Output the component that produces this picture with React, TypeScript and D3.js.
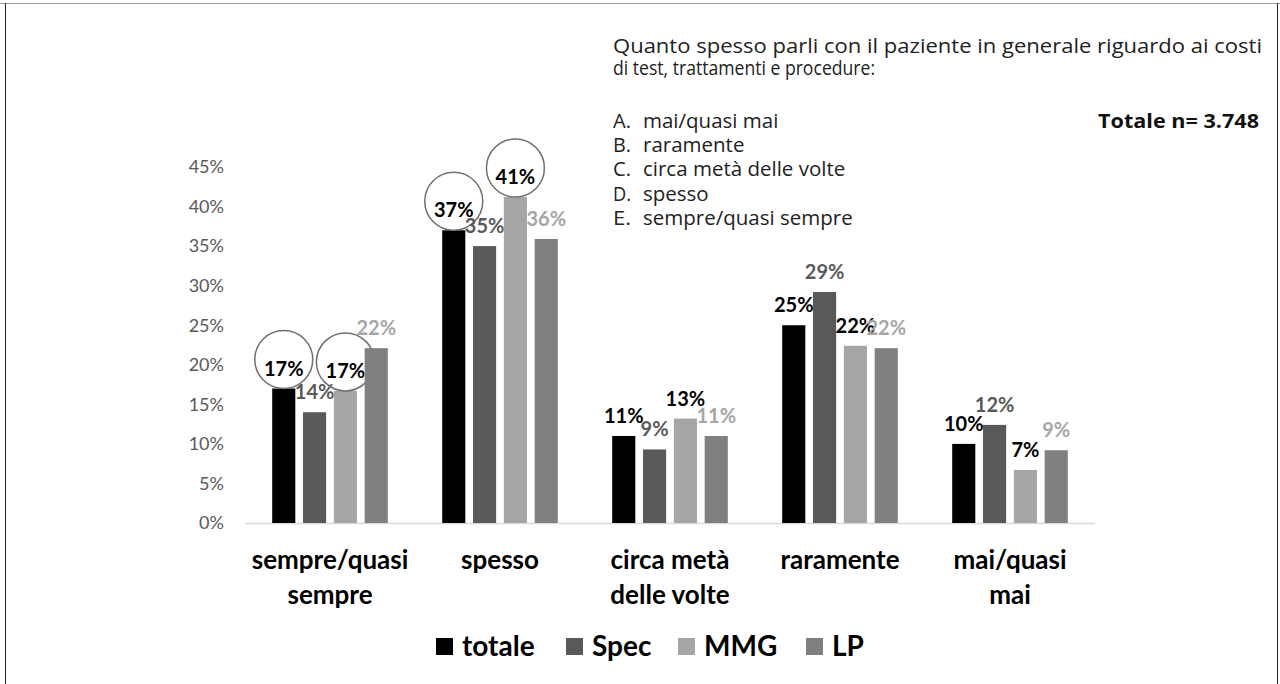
import React from 'react';
import * as d3 from 'd3';

const categories = ['sempre/quasi sempre', 'spesso', 'circa metà delle volte', 'raramente', 'mai/quasi mai'];
const categoryLines = [['sempre/quasi', 'sempre'], ['spesso'], ['circa metà', 'delle volte'], ['raramente'], ['mai/quasi', 'mai']];
const seriesNames = ['totale', 'Spec', 'MMG', 'LP'];
const totale = [17, 37, 11, 25, 10];
const spec = [14, 35, 9.3, 29.2, 12.4];
const mmg = [16.7, 41.2, 13.2, 22.4, 6.7];
const lp = [22.1, 35.9, 11, 22.1, 9.2];
const yTicks = [0, 5, 10, 15, 20, 25, 30, 35, 40, 45];
// cells that are circled in the original
const circled = [
  { cat: 'sempre/quasi sempre', series: 'totale' },
  { cat: 'sempre/quasi sempre', series: 'MMG' },
  { cat: 'spesso', series: 'totale' },
  { cat: 'spesso', series: 'MMG' },
];
const noteLines = ['Quanto spesso parli con il paziente in generale riguardo ai costi', 'di test, trattamenti e procedure:'];
const optionKeys = ['A.', 'B.', 'C.', 'D.', 'E.'];
const optionTexts = ['mai/quasi mai', 'raramente', 'circa metà delle volte', 'spesso', 'sempre/quasi sempre'];

const values: Record<string, number[]> = { totale, Spec: spec, MMG: mmg, LP: lp };
const barColor: Record<string, string> = { totale: '#000000', Spec: '#595959', MMG: '#a6a6a6', LP: '#808080' };
const labelColor: Record<string, string> = { totale: '#000000', Spec: '#595959', MMG: '#000000', LP: '#a6a6a6' };

const font = 'Lato, "Open Sans", sans-serif';
const noteFont = '"Open Sans", "Noto Sans", sans-serif';

export default function App() {
  const x0 = d3.scaleBand<string>().domain(categories).range([245, 1095]).paddingInner(0.32).paddingOuter(0.16);
  const x1 = d3.scaleBand<string>().domain(seriesNames).range([0, x0.bandwidth()]).paddingInner(0.25);
  const y = d3.scaleLinear().domain([0, 45]).range([523, 167]);

  const isCircled = (c: string, s: string) => circled.some((d) => d.cat === c && d.series === s);

  return (
    <div style={{ position: 'fixed', left: 0, top: 0 }}>
      <svg width={1280} height={684} style={{ display: 'block', background: '#fff' }}>
        <line x1={0} x2={1280} y1={3.5} y2={3.5} stroke="#a0a0a0" />
        <line x1={5.5} x2={5.5} y1={3} y2={684} stroke="#222" />
        <line x1={1277.5} x2={1277.5} y1={3} y2={684} stroke="#222" />

        {/* question text */}
        <text x={613} y={53} fontFamily={noteFont} fontSize={19.5} fill="#222" textLength={649} lengthAdjust="spacingAndGlyphs">
          {noteLines[0]}
        </text>
        <text x={613} y={75} fontFamily={noteFont} fontSize={19.5} fill="#222" textLength={262} lengthAdjust="spacingAndGlyphs">
          {noteLines[1]}
        </text>
        {optionKeys.map((k, i) => (
          <g key={k} fontFamily={noteFont} fontSize={20.5} fill="#222">
            <text x={613} y={128 + i * 24.2} textLength={18} lengthAdjust="spacingAndGlyphs">{k}</text>
            <text x={643} y={128 + i * 24.2}>{optionTexts[i]}</text>
          </g>
        ))}
        <text x={1259} y={128} textAnchor="end" fontFamily={noteFont} fontSize={20} fontWeight="bold" fill="#111" textLength={161} lengthAdjust="spacingAndGlyphs">
          Totale n= 3.748
        </text>

        {/* y axis labels */}
        {yTicks.map((t) => (
          <text key={t} x={224} y={y(t)} dy="0.35em" textAnchor="end" fontFamily={font} fontSize={18} fill="#595959">
            {t}%
          </text>
        ))}
        <line x1={245} x2={1095} y1={523.5} y2={523.5} stroke="#d9d9d9" strokeWidth={1.5} />

        {categories.map((c, ci) => (
          <g key={c} transform={`translate(${x0(c)},0)`}>
            {seriesNames.map((s) => {
              const v = values[s][ci];
              const bx = x1(s)!;
              const cx = bx + x1.bandwidth() / 2;
              return (
                <g key={s}>
                  <rect x={bx} y={y(v)} width={x1.bandwidth()} height={y(0) - y(v)} fill={barColor[s]} />
                  <text x={cx} y={y(v) - 13} textAnchor="middle" fontFamily={font} fontSize={20} fontWeight="bold" fill={labelColor[s]}>
                    {Math.round(v)}%
                  </text>
                  {isCircled(c, s) && <circle cx={cx} cy={y(v) - 29} r={29} fill="none" stroke="#6f6f6f" strokeWidth={1.5} />}
                </g>
              );
            })}
            {categoryLines[ci].map((l, li) => (
              <text key={l} x={x0.bandwidth() / 2} y={569 + li * 35} textAnchor="middle" fontFamily={font} fontSize={26} fontWeight="bold" fill="#000">
                {l}
              </text>
            ))}
          </g>
        ))}

        {/* legend */}
        {seriesNames.map((s, i) => {
          const lx = [436, 566, 678, 806][i];
          return (
            <g key={s}>
              <rect x={lx} y={638} width={17} height={17} fill={barColor[s]} />
              <text x={lx + 26} y={656} fontFamily={font} fontSize={28} fontWeight="bold" fill="#000">
                {s}
              </text>
            </g>
          );
        })}
      </svg>
    </div>
  );
}
